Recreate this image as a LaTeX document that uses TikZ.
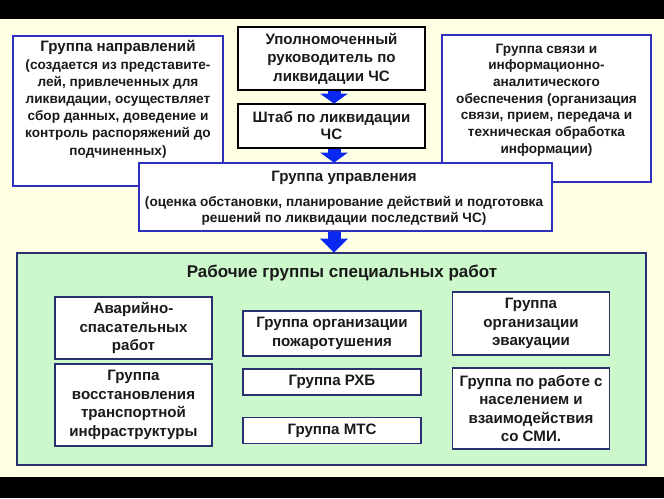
\documentclass[tikz,border=0pt]{standalone}
\usepackage{fontspec}
\setmainfont{Liberation Sans}
\usetikzlibrary{arrows.meta}
\definecolor{bgc}{HTML}{FFFFE4}
\definecolor{bluebd}{HTML}{3030C0}
\definecolor{navybd}{HTML}{283070}
\definecolor{greenf}{HTML}{CCF8CC}
\definecolor{arrowblue}{HTML}{0A28F0}
\definecolor{txt}{HTML}{1A1A1A}
\newcommand{\fsTitle}{\fontsize{15.1}{18.5}\selectfont\bfseries}
\newcommand{\fsBody}{\fontsize{13.6}{17.2}\selectfont\bfseries}
\begin{document}
\begin{tikzpicture}[x=1pt,y=-1pt,
  bluebox/.style={draw=bluebd,line width=1.6pt,fill=white,inner sep=0pt},
  blackbox/.style={draw=black,line width=1.6pt,fill=white,inner sep=0pt,align=center,text=txt,font=\fsTitle},
  innerbox/.style={draw=navybd,line width=1.6pt,fill=white,inner sep=0pt,align=center,text=txt,font=\fsTitle},
  greenbox/.style={draw=navybd,line width=1.6pt,fill=greenf,inner sep=0pt},
  textblock/.style={align=center,text=txt,inner sep=0pt},
  blockarrow/.style={draw=arrowblue,line width=13pt,-{Triangle[width=27pt,length=10pt]}},
  bigarrow/.style={draw=arrowblue,line width=13pt,-{Triangle[width=27pt,length=14pt]}}
]
\useasboundingbox (0,0) rectangle (664,498);
\fill[bgc] (0,0) rectangle (664,498);
\fill[black] (0,0) rectangle (664,19);
\fill[black] (0,477) rectangle (664,498);

% left box
\node[bluebox,minimum width=210pt,minimum height=150pt] (napr) at (118,111) {};
\node[textblock,anchor=north,font=\fsBody] (naprt) at (118,40.5) {{\fsTitle Группа направлений}\\
(создается из представите-\\
лей, привлеченных для\\
ликвидации, осуществляет\\
сбор данных, доведение и\\
контроль распоряжений до\\
подчиненных)};

% right box
\node[bluebox,minimum width=209pt,minimum height=147pt] (svyaz) at (546.5,108.5) {};
\node[textblock,anchor=north,font={\fontsize{13.6}{16.7}\selectfont\bfseries}] (svyazt) at (546.5,43.5) {Группа связи и\\
информационно-\\
аналитического\\
обеспечения (организация\\
связи, прием, передача и\\
техническая обработка\\
информации)};

% centre column
\node[blackbox,minimum width=187pt,minimum height=63pt] (ruk) at (331.5,58.5) {Уполномоченный\\руководитель по\\ликвидации ЧС};
\node[blackbox,minimum width=187pt,minimum height=44pt,font={\fontsize{15.1}{17}\selectfont\bfseries}] (shtab) at (331.5,126) {Штаб по ликвидации\\ЧС};

\node[bluebox,minimum width=413pt,minimum height=68pt] (upr) at (345.5,197) {};
\node[textblock,font=\fsTitle] (uprt) at (344,178) {Группа управления};
\node[textblock,font={\fontsize{13.6}{15.7}\selectfont\bfseries}] (uprb) at (344,210.5) {(оценка обстановки, планирование действий и подготовка\\решений по ликвидации последствий ЧС)};

% green box
\node[greenbox,minimum width=629pt,minimum height=212pt] (work) at (331.5,359) {};
\node[textblock,font={\fontsize{17}{20}\selectfont\bfseries}] (workt) at (342,273) {Рабочие группы специальных работ};

\node[innerbox,minimum width=157pt,minimum height=62pt] (avar) at (133.5,328) {Аварийно-\\спасательных\\работ};
\node[innerbox,minimum width=157pt,minimum height=82pt] (vosst) at (133.5,405) {Группа\\восстановления\\транспортной\\инфраструктуры};
\node[innerbox,minimum width=178pt,minimum height=45pt] (pozh) at (332,333.5) {Группа организации\\пожаротушения};
\node[innerbox,minimum width=178pt,minimum height=26pt] (rhb) at (332,382) {Группа РХБ};
\node[innerbox,minimum width=178pt,minimum height=26pt] (mts) at (332,430.5) {Группа МТС};
\node[innerbox,minimum width=157pt,minimum height=63pt] (evak) at (531,323.5) {Группа\\организации\\эвакуации};
\node[innerbox,minimum width=157pt,minimum height=81pt] (nasel) at (531,408.5) {Группа по работе с\\населением и\\взаимодействия\\со СМИ.};

% arrows
\draw[blockarrow] ([xshift=2.5pt]ruk.south) -- ([xshift=2.5pt,yshift=-0.5pt]shtab.north);
\draw[blockarrow] ([xshift=2.5pt]shtab.south) -- ([xshift=-11.5pt,yshift=-0.5pt]upr.north);
\draw[bigarrow] ([xshift=-11.5pt]upr.south) -- ([xshift=2.5pt,yshift=-0.5pt]work.north);
\end{tikzpicture}
\end{document}
